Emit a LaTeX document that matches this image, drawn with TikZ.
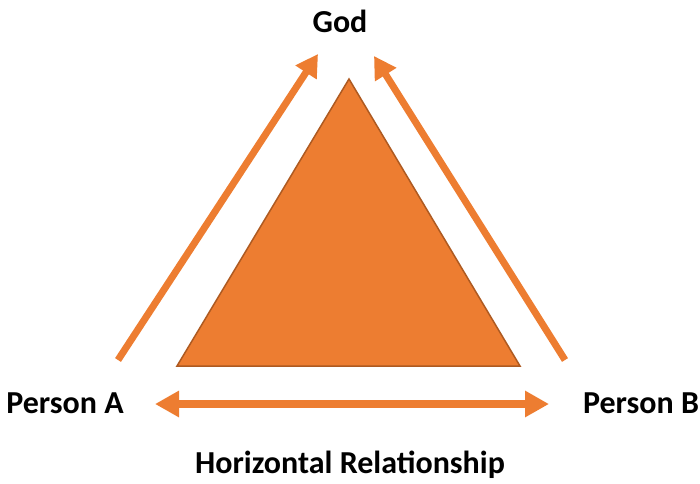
\documentclass[tikz,border=0pt]{standalone}
\usepackage{fontspec}
\setmainfont{Carlito}
\usetikzlibrary{arrows.meta}
\definecolor{orng}{HTML}{ED7D31}
\definecolor{orngdark}{HTML}{AE5A21}
\begin{document}
\begin{tikzpicture}[x=1pt,y=-1pt,
  lbl/.style={font=\bfseries\fontsize{32}{38}\selectfont, text=black, inner sep=0pt, anchor=base},
  arr/.style={draw=orng, line width=7pt, -{Triangle[width=24pt,length=22pt]}},
  darr/.style={draw=orng, line width=8pt, {Triangle[width=25pt,length=24pt]}-{Triangle[width=25pt,length=24pt]}}]
\useasboundingbox (0,0) rectangle (700,483);
\fill[orng, draw=orngdark, line width=1.5pt] (349,79) -- (520,366) -- (177,366) -- cycle;
\node[lbl] (god) at (340,32) {God};
\node[lbl] (pa) at (65,413) {Person A};
\node[lbl] (pb) at (641,413) {Person B};
\node[lbl] (hr) at (350,473) {Horizontal Relationship};
\coordinate (a1) at (118,360);
\coordinate (a2) at (318,54);
\coordinate (b1) at (565,360);
\coordinate (b2) at (374,56);
\coordinate (h1) at (155,404);
\coordinate (h2) at (549,404);
\draw[arr] (a1) -- (a2);
\draw[arr] (b1) -- (b2);
\draw[darr] (h1) -- (h2);
\end{tikzpicture}
\end{document}
